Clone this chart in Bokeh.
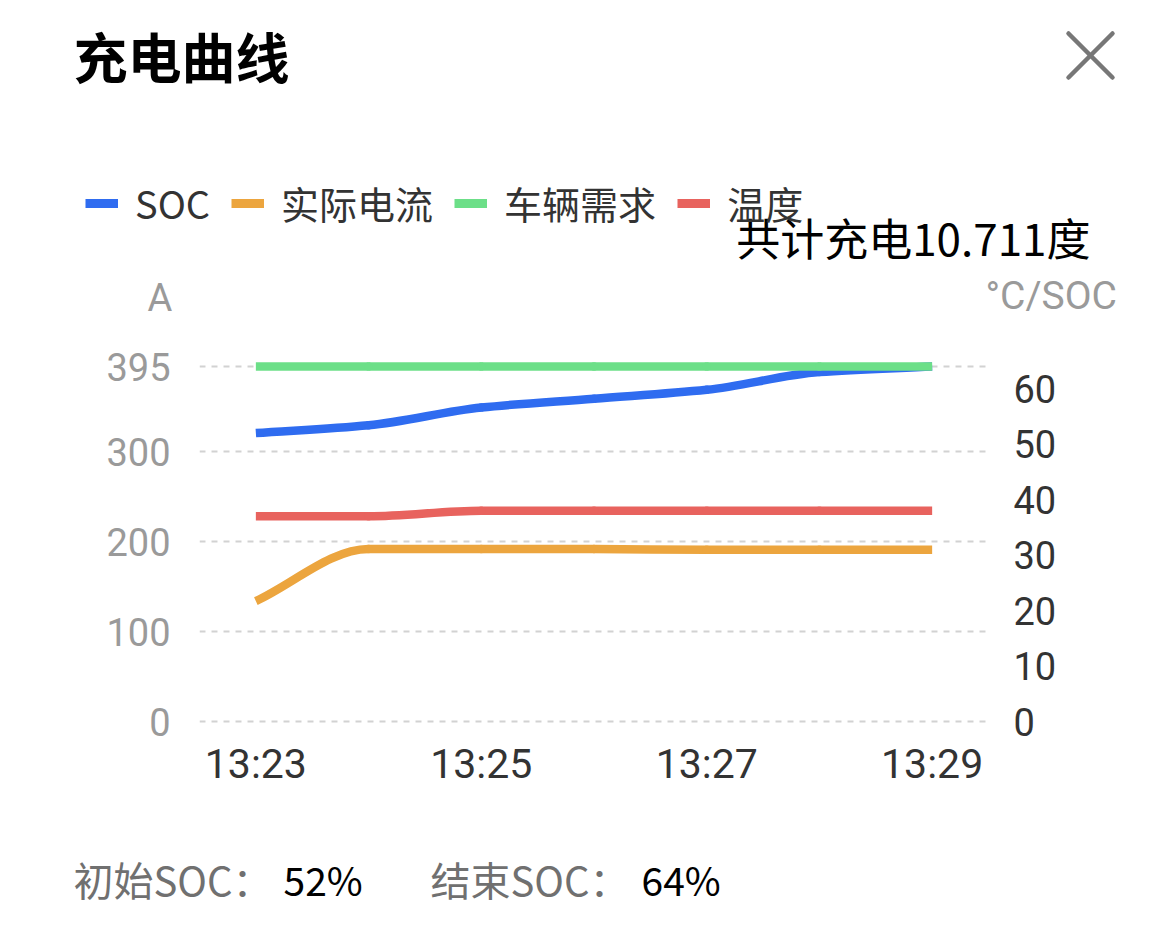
from bokeh.plotting import figure
from bokeh.models import (Range1d, LinearAxis, FixedTicker, Legend, LegendItem,
                          ColumnDataSource)
from bokeh.layouts import column
from bokeh.core.properties import value
from bokeh.embed import file_html
from bokeh.resources import INLINE

# ---------------- data ----------------
times = ["13:23", "13:24", "13:25", "13:26", "13:27", "13:28", "13:29"]
soc = [52, 53.4, 56.6, 58.2, 59.8, 63.0, 64]            # right axis (°C/SOC)
current = [134, 192, 192, 192, 191, 191, 191]           # left axis (A)
demand = [395, 395, 395, 395, 395, 395, 395]            # left axis (A)
temperature = [37, 37, 38, 38, 38, 38, 38]              # right axis (°C/SOC)

series_names = ["SOC", "实际电流", "车辆需求", "温度"]
series_colors = ["#2f6cf0", "#eca53e", "#6cdf88", "#e8635e"]

left_ticks = [0, 100, 200, 300, 395]
left_max = 395
right_ticks = [0, 10, 20, 30, 40, 50, 60]
right_max = 64
x_tick_labels = ["13:23", "13:25", "13:27", "13:29"]

title_text = "充电曲线"
total_text = "共计充电10.711度"
left_unit = "A"
right_unit = "°C/SOC"
start_label, start_value = "初始SOC：", "52%"
end_label, end_value = "结束SOC：", "64%"

# ---------------- layout constants (page px) ----------------
W = 1134
HEAD_H, MAIN_H, FOOT_H = 340, 470, 110
FRAME_L, FRAME_R = 199, 988
FRAME_T, FRAME_B = 358, 727
Y_ZERO, Y_MAX = 721, 366
LINE_W = 8.5
CJK = "Noto Sans CJK SC"


def pixel_fig(h, top):
    f = figure(width=W, height=h, x_range=Range1d(0, W), y_range=Range1d(top + h, top),
               output_backend="svg", toolbar_location=None,
               x_axis_type=None, y_axis_type=None, min_border=0, frame_align=False)
    f.outline_line_color = None
    f.title.visible = False
    return f


def put_text(f, x, y, text, size, color, font=CJK, align="left", style="normal"):
    f.text(x=[x], y=[y], text=[text], text_font=value(font), text_font_size=size,
           text_color=color, text_align=align, text_baseline="middle",
           text_font_style=style)


# ---------------- header ----------------
head = pixel_fig(HEAD_H, 0)
put_text(head, 73, 55, title_text, "54px", "#000000", style="bold")
head.segment(x0=[1068, 1112], y0=[33, 33], x1=[1112, 1068], y1=[77, 77],
             line_color="#777777", line_width=4.5, line_cap="round")

nan = float("nan")
items = []
for name, color in zip(series_names, series_colors):
    r = head.line(x=[nan], y=[nan], line_color=color, line_width=9)
    items.append(LegendItem(label=name, renderers=[r]))
legend = Legend(items=items, orientation="horizontal", location=(85, HEAD_H - 230),
                glyph_width=33, glyph_height=38, label_height=38,
                label_standoff=17, spacing=21, padding=0, margin=0,
                border_line_color=None, background_fill_alpha=0,
                label_text_font=CJK, label_text_font_size="38px",
                label_text_color="#333333")
head.add_layout(legend)

put_text(head, 1090, 236, total_text, "44px", "#000000", align="right")
put_text(head, 147, 297, left_unit, "38px", "#9a9a9a", font="Roboto")
put_text(head, 985, 295, right_unit, "39px", "#9a9a9a", font="Roboto")

# ---------------- main chart ----------------
px_per_unit = (Y_ZERO - Y_MAX) / left_max
y_bottom = -(FRAME_B - Y_ZERO) / px_per_unit
y_top = left_max + (Y_MAX - FRAME_T) / px_per_unit
k = right_max / left_max

xs = list(range(len(times)))
main_top = HEAD_H
p = figure(width=W, height=MAIN_H, output_backend="svg", toolbar_location=None,
           x_range=Range1d(-0.5, len(times) - 0.5),
           y_range=Range1d(y_bottom, y_top),
           min_border_left=FRAME_L, min_border_right=W - FRAME_R,
           min_border_top=FRAME_T - main_top,
           min_border_bottom=main_top + MAIN_H - FRAME_B, frame_align=False)
p.title.visible = False
p.extra_y_ranges = {"right": Range1d(y_bottom * k, y_top * k)}
p.outline_line_color = None


def style_axis(ax, color, size, standoff):
    ax.axis_line_color = None
    ax.major_tick_line_color = None
    ax.minor_tick_line_color = None
    ax.major_tick_out = 0
    ax.major_tick_in = 0
    ax.major_label_text_font = "Roboto"
    ax.major_label_text_font_size = size
    ax.major_label_text_color = color
    ax.major_label_standoff = standoff


p.yaxis.ticker = FixedTicker(ticks=left_ticks)
style_axis(p.yaxis[0], "#9a9a9a", "38px", 29)

raxis = LinearAxis(y_range_name="right", ticker=FixedTicker(ticks=right_ticks))
style_axis(raxis, "#333333", "38px", 25)
p.add_layout(raxis, "right")

x_tick_pos = [times.index(t) for t in x_tick_labels]
p.xaxis.ticker = FixedTicker(ticks=x_tick_pos)
p.xaxis.major_label_overrides = {i: t for i, t in zip(x_tick_pos, x_tick_labels)}
style_axis(p.xaxis[0], "#333333", "41px", 12)

p.xgrid.visible = False
p.ygrid.ticker = FixedTicker(ticks=left_ticks)
p.ygrid.grid_line_color = "#d2d2d2"
p.ygrid.grid_line_width = 2
p.ygrid.grid_line_dash = "6 6"


def bezier_source(xv, yv):
    """Monotone cubic smoothing, expressed as bezier control points."""
    n = len(xv)
    d = [(yv[i + 1] - yv[i]) / (xv[i + 1] - xv[i]) for i in range(n - 1)]
    m = [0.0] * n
    m[0] = d[0]
    m[-1] = d[-1]
    for i in range(1, n - 1):
        if d[i - 1] * d[i] <= 0:
            m[i] = 0.0
        else:
            m[i] = 2.0 / (1.0 / d[i - 1] + 1.0 / d[i])
    data = dict(x0=[], y0=[], x1=[], y1=[], cx0=[], cy0=[], cx1=[], cy1=[])
    for i in range(n - 1):
        h = xv[i + 1] - xv[i]
        data["x0"].append(xv[i]); data["y0"].append(yv[i])
        data["x1"].append(xv[i + 1]); data["y1"].append(yv[i + 1])
        data["cx0"].append(xv[i] + h / 3); data["cy0"].append(yv[i] + m[i] * h / 3)
        data["cx1"].append(xv[i + 1] - h / 3); data["cy1"].append(yv[i + 1] - m[i + 1] * h / 3)
    return ColumnDataSource(data)


series = [(soc, "right"), (current, "default"), (demand, "default"), (temperature, "right")]
for (vals, rng), name, color in zip(series, series_names, series_colors):
    p.bezier(x0="x0", y0="y0", x1="x1", y1="y1", cx0="cx0", cy0="cy0",
             cx1="cx1", cy1="cy1", source=bezier_source(xs, vals),
             line_color=color, line_width=LINE_W, line_cap="butt", y_range_name=rng)
    # joints between the curve segments
    p.scatter(x=xs[1:-1], y=vals[1:-1], size=LINE_W, marker="circle",
              fill_color=color, line_color=None, y_range_name=rng)

# ---------------- footer ----------------
foot_top = HEAD_H + MAIN_H
foot = pixel_fig(FOOT_H, foot_top)
put_text(foot, 73, 878, start_label, "40px", "#707070")
put_text(foot, 283, 878, start_value, "39px", "#000000")
put_text(foot, 430, 878, end_label, "40px", "#707070")
put_text(foot, 641, 878, end_value, "39px", "#000000")

layout = column(head, p, foot)
open("out.html", "w").write(file_html(layout, INLINE))
